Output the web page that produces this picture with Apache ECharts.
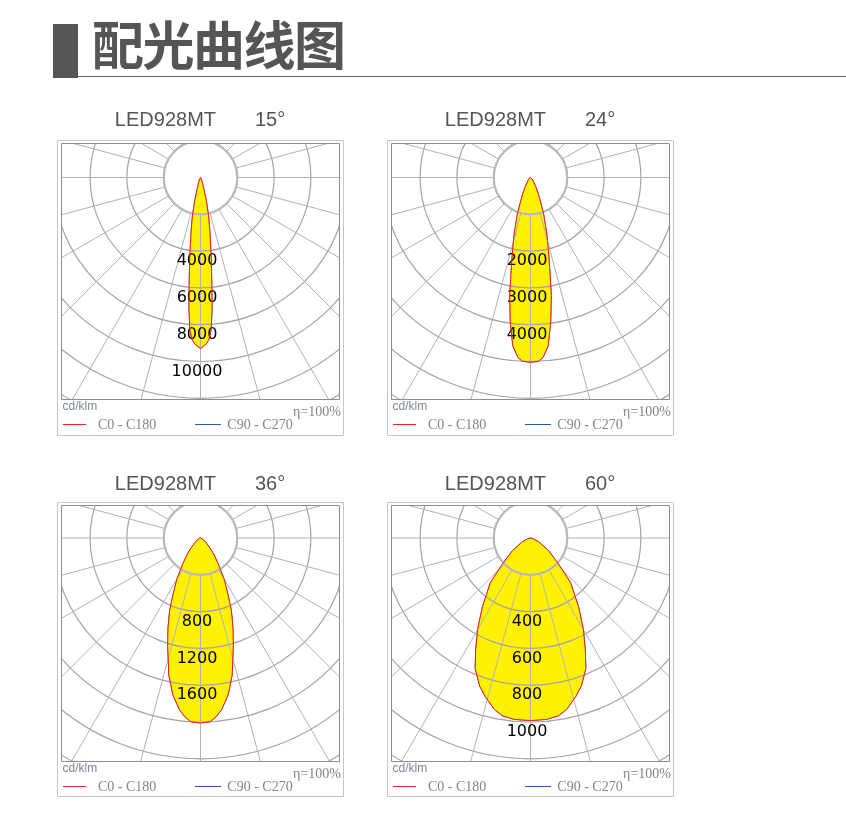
<!DOCTYPE html>
<html><head><meta charset="utf-8">
<script src="https://cdn.jsdelivr.net/npm/echarts@6/dist/echarts.min.js"></script>
<style>
html,body{margin:0;padding:0;background:#fff;}
body{width:846px;height:813px;overflow:hidden;position:relative;}
#hdrbar{position:absolute;left:53px;top:24px;width:25px;height:54px;background:#555;}
#hdrline{position:absolute;left:78px;top:76px;width:768px;height:1px;background:#6a6a6a;}
#hdrtext{position:absolute;left:92px;top:17px;font-family:"Noto Sans CJK SC";font-weight:bold;font-size:52px;line-height:52px;letter-spacing:-1.5px;color:#555;white-space:nowrap;}
.panel{position:absolute;width:300px;height:342px;}
</style></head><body>
<div id="hdrbar"></div><div id="hdrline"></div>
<div id="hdrtext">配光曲线图</div>
<div class="panel" id="p0" style="left:50px;top:100px"></div>
<div class="panel" id="p1" style="left:380px;top:100px"></div>
<div class="panel" id="p2" style="left:50px;top:462px"></div>
<div class="panel" id="p3" style="left:380px;top:462px"></div>
<script>
// ---- data ----
const titleTexts = ['LED928MT       15°', 'LED928MT       24°', 'LED928MT       36°', 'LED928MT       60°'];
const ringSteps = [2000, 1000, 400, 200];
const ringLabels = [[4000, 6000, 8000, 10000], [2000, 3000, 4000], [800, 1200, 1600], [400, 600, 800, 1000]];
const gammaStep = 15;
// half profiles (gamma in degrees, intensity in cd/klm); C0-C180 and C90-C270 coincide
const gamma15 = [0, 2, 3, 4, 5, 6, 7, 8, 10, 12, 14, 16, 20, 30, 45, 60, 90];
const cd15 =    [9300, 9050, 8800, 8300, 7200, 5900, 4900, 4100, 2900, 2100, 1300, 700, 300, 100, 40, 15, 0];
const gamma24 = [0, 2.5, 4, 6, 8, 10, 12, 14, 16, 20, 25, 30, 40, 60, 90];
const cd24 =    [5020, 5000, 4900, 4600, 3950, 3250, 2500, 2000, 1620, 1030, 520, 280, 100, 30, 0];
const gamma36 = [0, 3, 5, 7, 10, 13, 17, 20, 23, 26, 30, 34, 38, 42, 50, 60, 75, 90];
const cd36 =    [2010, 2000, 1950, 1880, 1730, 1530, 1220, 1030, 860, 680, 510, 350, 250, 175, 80, 40, 10, 0];
const gamma60 = [0, 5, 9, 12, 16, 19, 23, 26, 30, 35, 42, 47, 55, 65, 75, 90];
const cd60 =    [992, 990, 978, 951, 895, 850, 770, 680, 575, 455, 325, 210, 120, 50, 15, 0];
const legendNames = ['C0 - C180', 'C90 - C270'];
const legendColors = ['#e8262a', '#2f5ba8'];
const unitText = 'cd/klm';
const effText = 'η=100%';

const profiles = [[gamma15, cd15], [gamma24, cd24], [gamma36, cd36], [gamma60, cd60]];

// ---- layout ----
const RING_PX = 36.8;
const RINGS_OUT = 7.5;
const rowGeom = [
  {cy: 77.5, plotTop: 43.5, plotBottom: 299.5, boxTop: 40.5, boxBottom: 335.5, titleTop: 10},
  {cy: 76.0, plotTop: 43.5, plotBottom: 299.5, boxTop: 40.5, boxBottom: 334.5, titleTop: 12}
];
const plotLeft = 11.5, plotRight = 289.5, boxLeft = 7.5, boxRight = 293.5, cx = 150.5;
const legendIconX = [[13, 36], [145, 171]];
const legendY = 324.5;

function curvePoints(g, v) {
  const pts = [];
  for (let i = g.length - 1; i >= 1; i--) pts.push([v[i], -g[i]]);
  for (let i = 0; i < g.length; i++) pts.push([v[i], g[i]]);
  return pts;
}

function makeOption(k) {
  const geo = rowGeom[k < 2 ? 0 : 1];
  const step = ringSteps[k];
  const R = RING_PX * RINGS_OUT;
  const maxV = step * RINGS_OUT;
  const labs = ringLabels[k];
  const pts = curvePoints(profiles[k][0], profiles[k][1]);
  const W = 300, H = 342;
  return {
    animation: false,
    title: {
      text: titleTexts[k], left: 'center', top: geo.titleTop, padding: 0, z: 12,
      textStyle: {fontFamily: 'Liberation Sans', fontSize: 20, fontWeight: 'normal', color: '#555'}
    },
    legend: {
      data: legendNames,
      left: 13, top: 318.5, padding: 0, icon: 'rect', itemWidth: 23, itemHeight: 1, itemGap: 36, selectedMode: false, z: 12,
      itemStyle: {opacity: 0, borderWidth: 0},
      lineStyle: {opacity: 0, width: 0},
      textStyle: {fontFamily: 'Liberation Serif', fontSize: 14, color: '#858585', padding: [0, 0, 0, 7]}
    },
    polar: [
      {center: [cx, geo.cy], radius: [RING_PX, R]},
      {center: [cx, geo.cy], radius: [0, R]}
    ],
    angleAxis: [
      {polarIndex: 0, type: 'value', min: 0, max: 360, interval: gammaStep, startAngle: 270, z: 3,
        axisLine: {show: true, lineStyle: {color: '#b9b9b9', width: 2.2}},
        axisTick: {show: false}, axisLabel: {show: false},
        splitLine: {show: true, lineStyle: {color: '#b2b2b2', width: 1}}},
      {polarIndex: 1, type: 'value', min: -180, max: 180, startAngle: 90, show: false,
        axisLine: {show: false}, axisTick: {show: false}, axisLabel: {show: false}, splitLine: {show: false}}
    ],
    radiusAxis: [
      {polarIndex: 0, type: 'value', min: step, max: maxV, interval: step, z: 3,
        axisLine: {show: false}, axisTick: {show: false},
        splitLine: {show: true, lineStyle: {color: '#a4a4a4', width: 1.2}},
        axisLabel: {show: true, margin: 0, align: 'center', verticalAlign: 'top', padding: [2, 7, 0, 0],
          fontFamily: 'DejaVu Sans', fontSize: 16, color: '#000',
          formatter: function (v) { return labs.indexOf(Math.round(v)) >= 0 ? String(Math.round(v)) : ''; }}},
      {polarIndex: 1, type: 'value', min: 0, max: maxV, show: false,
        axisLine: {show: false}, axisTick: {show: false}, axisLabel: {show: false}, splitLine: {show: false}}
    ],
    series: [
      {name: legendNames[0], type: 'line', coordinateSystem: 'polar', polarIndex: 1, data: pts, symbol: 'none',
        itemStyle: {color: legendColors[0]}, lineStyle: {width: 1, color: '#ee1c24'}, z: 5, silent: true},
      {name: legendNames[1], type: 'line', coordinateSystem: 'polar', polarIndex: 1, data: pts, symbol: 'none',
        itemStyle: {color: legendColors[1]}, lineStyle: {width: 1, color: legendColors[1]}, z: 0, silent: true},
      {name: legendNames[0], type: 'line', coordinateSystem: 'polar', polarIndex: 1, data: pts, symbol: 'none',
        itemStyle: {color: legendColors[0]}, lineStyle: {width: 0}, areaStyle: {color: '#fff200', opacity: 1}, z: 1, silent: true}
    ],
    graphic: {elements: [
      {type: 'rect', z: 10, silent: true, shape: {x: 0, y: 0, width: W, height: geo.plotTop}, style: {fill: '#fff'}},
      {type: 'rect', z: 10, silent: true, shape: {x: 0, y: geo.plotBottom, width: W, height: H - geo.plotBottom}, style: {fill: '#fff'}},
      {type: 'rect', z: 10, silent: true, shape: {x: 0, y: 0, width: plotLeft, height: H}, style: {fill: '#fff'}},
      {type: 'rect', z: 10, silent: true, shape: {x: plotRight, y: 0, width: W - plotRight, height: H}, style: {fill: '#fff'}},
      {type: 'rect', z: 11, silent: true, shape: {x: plotLeft, y: geo.plotTop, width: plotRight - plotLeft, height: geo.plotBottom - geo.plotTop},
        style: {fill: 'none', stroke: '#8e8e8e', lineWidth: 1}},
      {type: 'rect', z: 11, silent: true, shape: {x: boxLeft, y: geo.boxTop, width: boxRight - boxLeft, height: geo.boxBottom - geo.boxTop},
        style: {fill: 'none', stroke: '#c6c6c6', lineWidth: 1}},
      {type: 'line', z: 13, silent: true, shape: {x1: legendIconX[0][0], y1: legendY, x2: legendIconX[0][1], y2: legendY},
        style: {stroke: legendColors[0], lineWidth: 1}},
      {type: 'line', z: 13, silent: true, shape: {x1: legendIconX[1][0], y1: legendY, x2: legendIconX[1][1], y2: legendY},
        style: {stroke: legendColors[1], lineWidth: 1}},
      {type: 'text', z: 11, silent: true, style: {text: unitText, x: 12.5, y: 306.5, fill: '#7d8797',
        font: '12px "Liberation Sans"', align: 'left', verticalAlign: 'middle'}},
      {type: 'text', z: 11, silent: true, style: {text: effText, x: 291, y: 312, fill: '#858585',
        font: '14px "Liberation Serif"', align: 'right', verticalAlign: 'middle'}}
    ]}
  };
}

for (let k = 0; k < 4; k++) {
  const chart = echarts.init(document.getElementById('p' + k), null, {renderer: 'canvas', devicePixelRatio: 1});
  chart.setOption(makeOption(k));
}
</script>
</body></html>
